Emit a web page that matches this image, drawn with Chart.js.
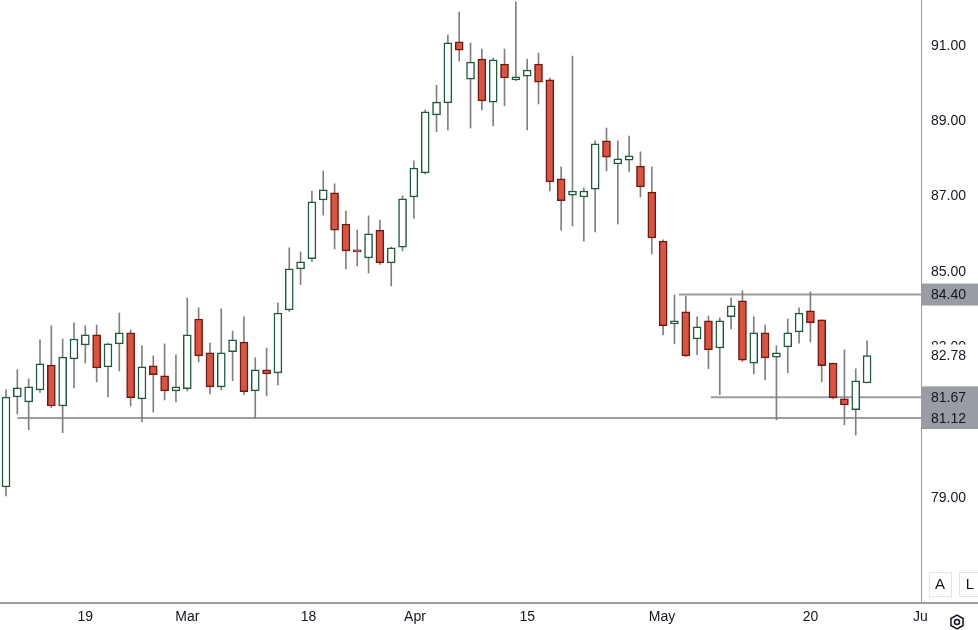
<!DOCTYPE html>
<html><head><meta charset="utf-8">
<script src="https://cdn.jsdelivr.net/npm/chart.js@4"></script>
<style>html,body{margin:0;padding:0;background:#fff}#w{width:978px;height:630px}</style>
</head><body><div id="w"><canvas id="c"></canvas></div>
<script>
const opens  = [79.29,81.68,81.55,81.87,82.53,81.44,82.69,83.06,83.33,82.48,83.09,83.38,81.63,82.51,82.24,81.84,81.90,83.75,82.85,81.95,82.88,83.14,81.84,82.40,82.32,83.99,85.08,85.35,86.91,87.10,86.27,85.56,85.37,86.11,85.24,85.66,86.99,87.63,89.17,89.49,91.11,90.12,90.65,89.51,90.52,90.10,90.20,90.52,90.10,87.47,87.04,86.99,87.20,88.48,87.87,87.97,87.81,87.12,85.82,83.62,83.94,83.22,83.70,82.98,83.81,84.23,82.58,83.38,82.74,83.01,83.41,83.97,83.73,82.58,81.63,81.34,82.05];
const highs  = [81.87,82.40,82.16,83.20,83.57,83.22,83.65,83.57,83.59,83.11,83.91,83.46,83.04,82.77,83.09,82.80,84.31,84.05,83.11,84.02,83.43,83.81,82.72,82.98,84.18,85.64,85.53,87.15,87.68,87.34,86.62,86.11,86.49,86.38,85.66,87.02,87.95,89.30,89.96,91.29,91.90,91.08,90.92,90.68,90.92,92.17,90.65,90.81,90.15,87.79,90.73,87.23,88.48,88.82,88.48,88.61,88.19,87.79,85.85,84.39,84.36,83.81,83.83,83.78,84.31,84.50,83.81,83.59,83.04,83.75,84.05,84.47,83.73,82.58,82.93,82.43,83.17];
const lows   = [79.05,81.23,80.81,81.80,81.40,80.73,81.92,82.58,82.08,81.68,82.37,81.44,81.02,81.28,81.60,81.55,81.84,82.61,81.76,81.87,82.11,81.74,81.12,81.71,82.00,83.95,84.66,85.27,86.51,85.61,85.08,85.16,84.97,85.20,84.63,85.56,86.43,87.60,88.72,88.77,90.60,88.82,89.30,88.88,89.41,90.08,88.77,89.46,87.15,86.11,86.22,85.82,86.06,87.68,86.27,87.66,86.99,85.48,83.33,83.09,82.75,82.80,82.43,81.74,83.49,82.62,82.29,82.13,81.07,82.32,83.11,83.14,82.08,81.63,80.94,80.67,82.05];
const closes = [81.68,81.92,81.95,82.56,81.44,82.74,83.22,83.33,82.45,83.09,83.38,81.66,82.48,82.27,81.84,81.95,83.33,82.77,81.95,82.85,83.20,81.82,82.40,82.29,83.91,85.08,85.27,86.86,87.18,86.11,85.56,85.53,86.01,85.24,85.64,86.94,87.76,89.25,89.51,91.08,90.89,90.57,89.54,90.63,90.15,90.18,90.36,90.04,87.39,86.89,87.15,87.15,88.40,88.05,88.00,88.08,87.26,85.90,83.57,83.67,82.77,83.54,82.93,83.70,84.10,82.66,83.38,82.72,82.85,83.38,83.91,83.65,82.51,81.66,81.47,82.11,82.78];
const xTickPos = [7, 16, 26.7, 36.1, 46, 57.9, 71, 80.7];
const xTickLabels = ['19','Mar','18','Apr','15','May','20','Ju'];
const yTicks = [79,81,83,85,87,89,91];
const levels = [84.40, 81.67, 81.12];
const levelStart = [59.4, 62.2, 1.0];
const lastPrice = 82.78;

const idx = opens.map((_,i)=>i);
const up = idx.map(i=>closes[i]>=opens[i]);
const bodies = idx.map(i=>({x:i,y:[Math.min(opens[i],closes[i]),Math.max(opens[i],closes[i])+ (Math.abs(opens[i]-closes[i])<0.05?0.03:0)]}));
const wicks = idx.map(i=>({x:i,y:[lows[i],highs[i]]}));
const XMIN=-0.53, XMAX=80.76;
const lineSets = levels.map((v,k)=>({type:'line',data:[{x:levelStart[k],y:v},{x:XMAX,y:v}],borderColor:'#9a9ca3',borderWidth:2,pointRadius:0,order:3}));

const labelPlugin={id:'lbl',afterDraw(ch){
  const c=ch.ctx,y=ch.scales.y;
  c.save();c.font='14px "Liberation Sans", Arial';c.textBaseline='middle';c.textAlign='left';
  const box=(v,fill)=>{const py=y.getPixelForValue(v);c.fillStyle=fill;c.fillRect(922,py-11,56,22);c.fillStyle='#131722';c.fillText(v.toFixed(2),931,py+1);};
  box(lastPrice,'#ffffff');
  levels.forEach(v=>box(v,'#9a9ca3'));
  c.fillStyle='#9a9ca3';c.fillRect(0,602,978,2);
  c.strokeStyle='#e0e3eb';c.lineWidth=1;
  c.strokeRect(929.5,572.5,22,24);c.strokeRect(959.5,572.5,22,24);
  c.fillStyle='#131722';c.font='15px "Liberation Sans", Arial';c.textAlign='center';
  c.fillText('A',940,585);c.fillText('L',970,585);
  c.strokeStyle='#131722';c.lineWidth=1.5;c.beginPath();
  const cx=957,cy=622;for(let k=0;k<6;k++){const a=Math.PI/3*k+Math.PI/6;const px=cx+7*Math.cos(a),py=cy+7*Math.sin(a);k?c.lineTo(px,py):c.moveTo(px,py);}c.closePath();c.stroke();
  c.beginPath();c.arc(cx,cy,2.5,0,Math.PI*2);c.stroke();
  c.restore();
}};

new Chart(document.getElementById('c'),{
  data:{datasets:[
    ...lineSets,
    {type:'bar',data:wicks,backgroundColor:'#808080',barThickness:1,grouped:false,order:2},
    {type:'bar',data:bodies,backgroundColor:idx.map(i=>up[i]?'#ffffff':'#d85543'),borderColor:idx.map(i=>up[i]?'#1e5b3a':'#6e1a12'),borderWidth:1.5,borderSkipped:false,barThickness:8,grouped:false,order:1}
  ]},
  options:{responsive:true,maintainAspectRatio:false,animation:false,
    layout:{padding:0},
    plugins:{legend:{display:false},tooltip:{enabled:false}},
    scales:{
      x:{type:'linear',min:XMIN,max:XMAX,offset:false,
        grid:{display:false,drawTicks:false},border:{display:false},
        afterBuildTicks(s){s.ticks=xTickPos.map(v=>({value:v}));},
        afterFit(s){s.height=27;s.paddingLeft=0;s.paddingRight=0;},
        ticks:{autoSkip:false,maxRotation:0,padding:6,color:'#131722',font:{size:14,family:'"Liberation Sans", Arial'},
          callback(v){const k=xTickPos.indexOf(v);return k>=0?xTickLabels[k]:'';}}},
      y:{position:'right',min:76.21,max:92.22,
        grid:{display:false,drawTicks:false},border:{display:true,color:'#9a9ca3',width:1},
        afterBuildTicks(s){s.ticks=yTicks.map(v=>({value:v}));},
        afterFit(s){s.width=57;s.paddingTop=0;s.paddingBottom=0;},
        ticks:{padding:10,color:'#131722',font:{size:14,family:'"Liberation Sans", Arial'},callback:v=>v.toFixed(2)}}
    }},
  plugins:[labelPlugin]
});
</script></body></html>
